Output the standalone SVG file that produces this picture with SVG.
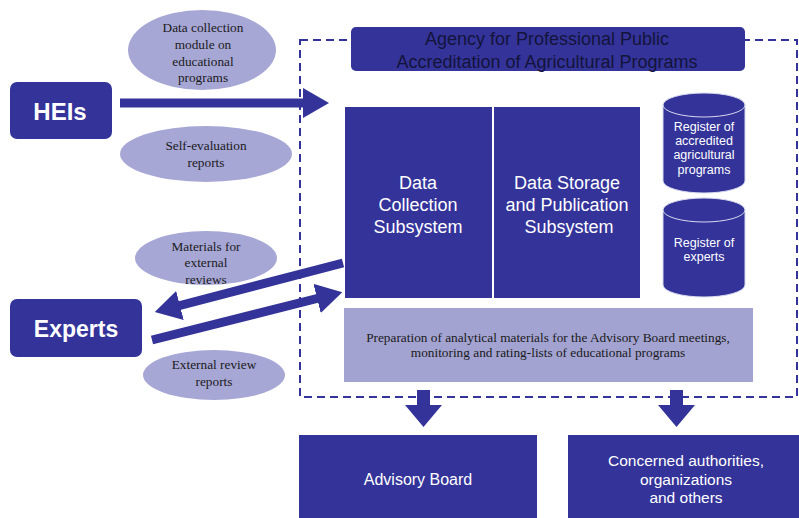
<svg xmlns="http://www.w3.org/2000/svg" width="799" height="518" viewBox="0 0 799 518">
  <defs>
    <style>
      .dark { fill: #33339a; }
      .bubble { fill: #a7a7d6; }
      .wt { fill: #ffffff; font-family: "Liberation Sans", Arial, sans-serif; text-anchor: middle; }
      .bt { fill: #1a1a1a; font-family: "Liberation Serif", "Times New Roman", serif; text-anchor: middle; font-size: 13.3px; }
      .flow { stroke: #33339a; stroke-width: 9; fill: none; }
      .frame { fill: none; stroke: #33339a; stroke-width: 2; stroke-dasharray: 8 5; }
      .cyl { fill: #33339a; stroke: #d8d8ee; stroke-width: 1; }
    </style>
    <marker id="head" viewBox="0 0 26 30" refX="2" refY="15" markerWidth="26" markerHeight="30" markerUnits="userSpaceOnUse" orient="auto">
      <path d="M0,0 L26,15 L0,30 z" fill="#33339a"/>
    </marker>
  </defs>

  <rect width="799" height="518" fill="#ffffff"/>

  <!-- agency boundary -->
  <rect class="frame" x="300" y="40" width="497" height="357"/>

  <!-- connectors -->
  <g id="connectors">
    <line class="flow" x1="120" y1="103" x2="305" y2="103" marker-end="url(#head)"/>
    <line class="flow" x1="343" y1="263" x2="178" y2="306" marker-end="url(#head)"/>
    <line class="flow" x1="152" y1="340" x2="319" y2="298" marker-end="url(#head)"/>
    <polygon class="dark" points="417,390 430,390 430,405 442,405 423.5,427 405,405 417,405"/>
    <polygon class="dark" points="670,390 683,390 683,405 695,405 676.5,427 658,405 670,405"/>
  </g>

  <g id="heis">
    <rect class="dark" x="10" y="82" width="102" height="57" rx="7"/>
    <text class="wt" x="60" y="120" font-size="24" font-weight="bold">HEIs</text>
  </g>

  <g id="experts">
    <rect class="dark" x="10" y="299" width="132" height="58" rx="7"/>
    <text class="wt" x="76" y="337" font-size="23" font-weight="bold">Experts</text>
  </g>

  <g id="label-data-module">
    <ellipse class="bubble" cx="202" cy="50" rx="74" ry="40"/>
    <text class="bt" x="203" y="32">Data collection</text>
    <text class="bt" x="203" y="49">module on</text>
    <text class="bt" x="203" y="66">educational</text>
    <text class="bt" x="203" y="82">programs</text>
  </g>

  <g id="label-self-evaluation">
    <ellipse class="bubble" cx="206" cy="154" rx="86" ry="28"/>
    <text class="bt" x="206" y="150">Self-evaluation</text>
    <text class="bt" x="206" y="167">reports</text>
  </g>

  <g id="label-materials">
    <ellipse class="bubble" cx="206" cy="258" rx="71" ry="27"/>
    <text class="bt" x="206" y="251">Materials for</text>
    <text class="bt" x="206" y="267">external</text>
    <text class="bt" x="206" y="284">reviews</text>
  </g>

  <g id="label-external-reports">
    <ellipse class="bubble" cx="214" cy="375" rx="71" ry="25"/>
    <text class="bt" x="214" y="369">External review</text>
    <text class="bt" x="214" y="386">reports</text>
  </g>

  <g id="agency">
    <rect class="dark" x="351" y="27" width="394" height="44" rx="5"/>
    <text x="547" y="44.5" font-size="18" fill="#14143a" font-family="Liberation Sans, Arial, sans-serif" text-anchor="middle">Agency for Professional Public</text>
    <text x="547" y="68" font-size="18" fill="#14143a" font-family="Liberation Sans, Arial, sans-serif" text-anchor="middle">Accreditation of Agricultural Programs</text>
  </g>

  <g id="data-collection">
    <rect class="dark" x="345" y="107" width="147" height="191"/>
    <text class="wt" x="418" y="189" font-size="18">Data</text>
    <text class="wt" x="418" y="211" font-size="18">Collection</text>
    <text class="wt" x="418" y="233" font-size="18">Subsystem</text>
  </g>

  <g id="data-storage">
    <rect class="dark" x="494" y="107" width="146" height="191"/>
    <text class="wt" x="567" y="189" font-size="18">Data Storage</text>
    <text class="wt" x="567" y="211" font-size="18">and Publication</text>
    <text class="wt" x="569" y="233" font-size="18">Subsystem</text>
  </g>

  <g id="register-programs">
    <path class="cyl" d="M663,105 L663,181 A41,12 0 0 0 745,181 L745,105"/>
    <ellipse class="cyl" cx="704" cy="105" rx="41" ry="12" fill="#3d3da3"/>
    <text class="wt" x="704" y="131" font-size="12.5">Register of</text>
    <text class="wt" x="704" y="145" font-size="12.5">accredited</text>
    <text class="wt" x="704" y="159" font-size="12.5">agricultural</text>
    <text class="wt" x="704" y="174" font-size="12.5">programs</text>
  </g>

  <g id="register-experts">
    <path class="cyl" d="M663,210 L663,285 A41,12 0 0 0 745,285 L745,210"/>
    <ellipse class="cyl" cx="704" cy="210" rx="41" ry="12" fill="#3d3da3"/>
    <text class="wt" x="704" y="247" font-size="12.5">Register of</text>
    <text class="wt" x="704" y="261" font-size="12.5">experts</text>
  </g>

  <g id="preparation">
    <rect x="344" y="308" width="409" height="74" fill="#a3a3d1"/>
    <text class="bt" x="548" y="342" font-size="14">Preparation of analytical materials for the Advisory Board meetings,</text>
    <text class="bt" x="548" y="357" font-size="14">monitoring and rating-lists of educational programs</text>
  </g>

  <g id="advisory-board">
    <rect class="dark" x="299" y="435" width="238" height="83"/>
    <text class="wt" x="418" y="485" font-size="16">Advisory Board</text>
  </g>

  <g id="authorities">
    <rect class="dark" x="568" y="435" width="231" height="83"/>
    <text class="wt" x="686" y="466" font-size="15.5">Concerned authorities,</text>
    <text class="wt" x="686" y="485" font-size="15.5">organizations</text>
    <text class="wt" x="686" y="503" font-size="15.5">and others</text>
  </g>
</svg>
